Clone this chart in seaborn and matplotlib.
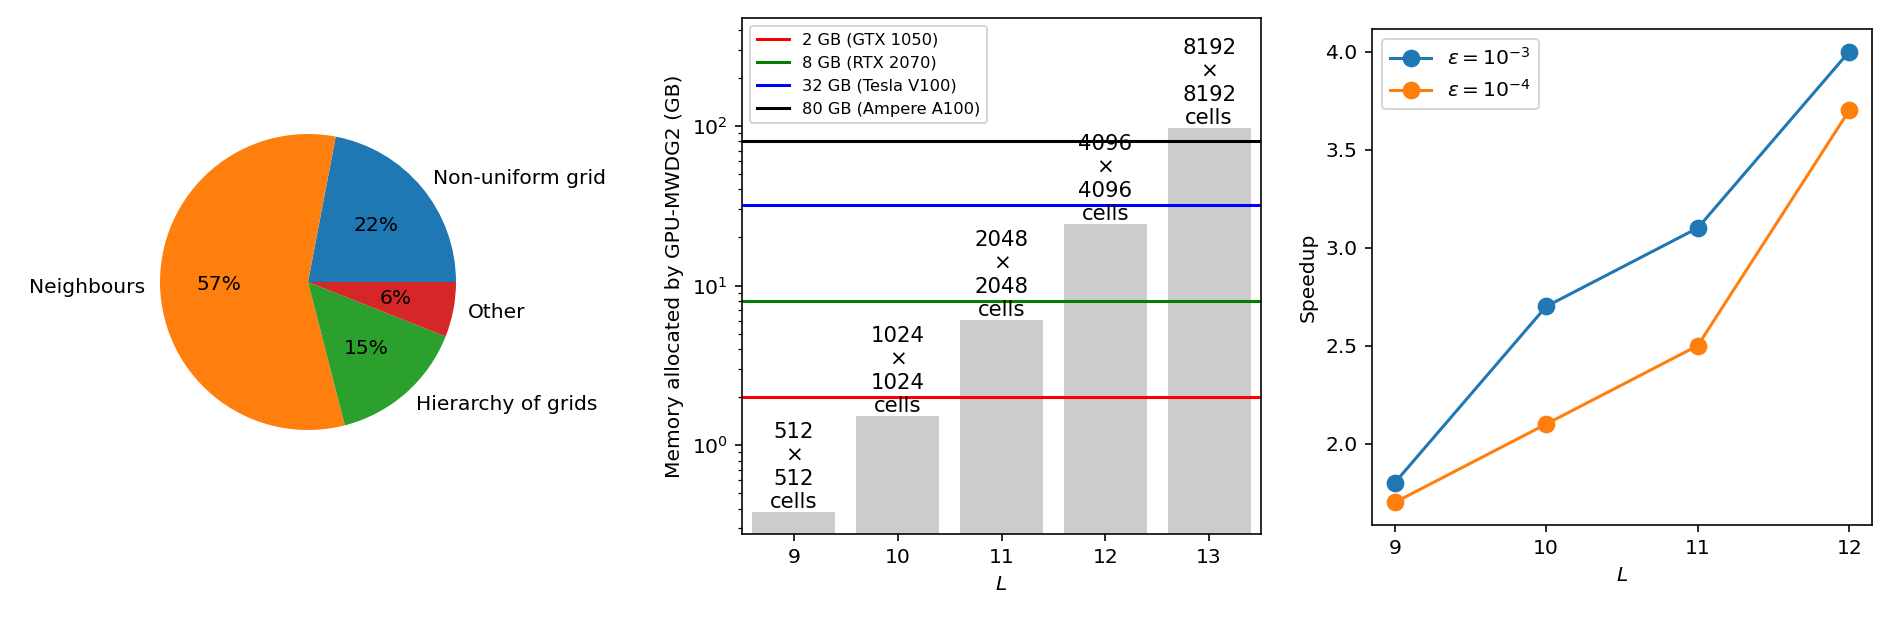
import numpy as np
import pandas as pd
import matplotlib
matplotlib.use("Agg")
import matplotlib.pyplot as plt
import seaborn as sns

# Datos: reparto del tiempo (tarta)
pie_labels = ["Non-uniform grid", "Neighbours", "Hierarchy of grids", "Other"]
pie_values = [22, 57, 15, 6]

# Datos: memoria por nivel L (barras, escala log)
levels = [9, 10, 11, 12, 13]
memory_gb = [0.38, 1.52, 6.08, 24.3, 97.3]
cells = ["512", "1024", "2048", "4096", "8192"]

# Límites de memoria de las GPUs
gpu_mem = [2, 8, 32, 80]
gpu_names = ["2 GB (GTX 1050)", "8 GB (RTX 2070)", "32 GB (Tesla V100)", "80 GB (Ampere A100)"]
gpu_colors = ["red", "green", "blue", "black"]

# Datos: speedup
speed_L = [9, 10, 11, 12]
speedup_e3 = [1.8, 2.7, 3.1, 4.0]
speedup_e4 = [1.7, 2.1, 2.5, 3.7]

W, H, DPI = 1892, 619, 146
fig = plt.figure(figsize=(W / DPI, H / DPI), dpi=DPI)

pal = sns.color_palette("tab10")

# Tarta
ax1 = fig.add_axes([123 / W, 1 - 467 / H, 370 / W, 370 / H])
ax1.pie(pie_values, labels=pie_labels, autopct="%1.0f%%", colors=pal[:4])

# Barras de memoria
ax2 = fig.add_axes([742 / W, 1 - 534 / H, (1261 - 742) / W, (534 - 18) / H])
df_mem = pd.DataFrame({"L": levels, "mem": memory_gb})
sns.barplot(data=df_mem, x="L", y="mem", native_scale=True, color="#cccccc",
            saturation=1, width=0.8, ax=ax2)
ax2.set_yscale("log")
for m, name, c in zip(gpu_mem, gpu_names, gpu_colors):
    ax2.axhline(m, color=c, lw=1.5, label=name)
for x, y, n in zip(levels, memory_gb, cells):
    ax2.text(x, y, f"{n}\n×\n{n}\ncells", ha="center", va="bottom", fontsize=10.5)
ax2.set_xlim(8.5, 13.5)
ax2.set_ylim(0.277, 475)
ax2.set_xticks(levels)
ax2.set_xticklabels([str(l) for l in levels])
ax2.set_xlabel("$L$")
ax2.set_ylabel("Memory allocated by GPU-MWDG2 (GB)")
ax2.legend(loc="upper left", fontsize=8)

# Speedup
ax3 = fig.add_axes([1372 / W, 1 - 525 / H, (1872 - 1372) / W, (525 - 29) / H])
sns.lineplot(x=speed_L, y=speedup_e3, marker="o", markersize=8, color=pal[0],
             markeredgecolor=pal[0], label=r"$\varepsilon = 10^{-3}$", ax=ax3)
sns.lineplot(x=speed_L, y=speedup_e4, marker="o", markersize=8, color=pal[1],
             markeredgecolor=pal[1], label=r"$\varepsilon = 10^{-4}$", ax=ax3)
ax3.set_xticks(speed_L)
ax3.set_xlabel("$L$")
ax3.set_ylabel("Speedup")
ax3.legend(loc="upper left")

fig.savefig("out.png", dpi=DPI)
